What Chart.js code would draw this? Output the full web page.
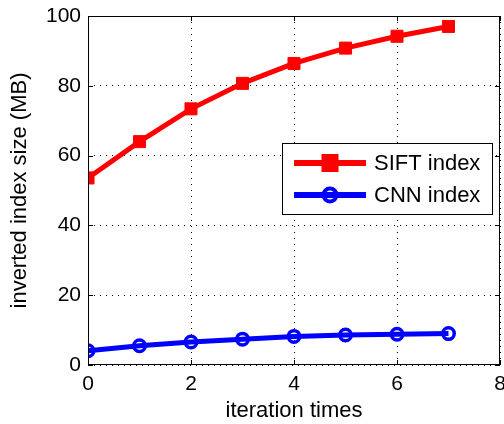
<!DOCTYPE html>
<html>
<head>
<meta charset="utf-8">
<script src="https://cdn.jsdelivr.net/npm/chart.js@4.4.0/dist/chart.umd.min.js"></script>
<style>
  html, body { margin: 0; padding: 0; background: #fff; }
  #wrap { width: 504px; height: 424px; }
</style>
</head>
<body>
<div id="wrap"><canvas id="c" width="504" height="424"></canvas></div>
<script>
// data
const iterations = [0, 1, 2, 3, 4, 5, 6, 7];
const siftIndex = [53.6, 64.0, 73.4, 80.7, 86.4, 90.8, 94.2, 97.0];
const cnnIndex = [4.1, 5.5, 6.6, 7.4, 8.2, 8.6, 8.8, 9.0];
const seriesNames = ["SIFT index", "CNN index"];
const xTicks = [0, 2, 4, 6, 8];
const yTicks = [0, 20, 40, 60, 80, 100];

const FONT = "'Liberation Sans', Arial, sans-serif";
Chart.defaults.font.family = FONT;
Chart.defaults.color = "#000";

// frame, inward ticks and legend, matlab style
const framePlugin = {
  id: "frame",
  afterDraw(chart) {
    const { ctx, chartArea: a } = chart;
    ctx.save();
    ctx.strokeStyle = "#000";
    ctx.lineWidth = 1;
    ctx.strokeRect(a.left + 0.5, a.top + 0.5, a.right - a.left - 1, a.bottom - a.top - 1);

    const xs = chart.scales.x, ys = chart.scales.y;
    ctx.beginPath();
    xTicks.forEach(v => {
      const px = Math.round(xs.getPixelForValue(v)) + 0.5;
      ctx.moveTo(px, a.bottom); ctx.lineTo(px, a.bottom - 5);
      ctx.moveTo(px, a.top); ctx.lineTo(px, a.top + 5);
    });
    yTicks.forEach(v => {
      const py = Math.round(ys.getPixelForValue(v)) + 0.5;
      ctx.moveTo(a.left, py); ctx.lineTo(a.left + 5, py);
      ctx.moveTo(a.right, py); ctx.lineTo(a.right - 5, py);
    });
    ctx.stroke();

    // legend box
    const bx = 282, by = 143, bw = 210, bh = 71;
    ctx.fillStyle = "#fff";
    ctx.fillRect(bx, by, bw, bh);
    ctx.strokeRect(bx + 0.5, by + 0.5, bw, bh);
    chart.data.datasets.forEach((ds, i) => {
      const y = by + 20 + i * 32;
      ctx.strokeStyle = ds.borderColor;
      ctx.lineWidth = 6;
      ctx.beginPath();
      ctx.moveTo(bx + 12, y); ctx.lineTo(bx + 84, y);
      ctx.stroke();
      const mx = bx + 48;
      if (ds.pointStyle === "rect") {
        ctx.fillStyle = ds.borderColor;
        ctx.fillRect(mx - 8.5, y - 9, 17, 18);
      } else {
        ctx.lineWidth = 4;
        ctx.beginPath();
        ctx.arc(mx, y, 6.5, 0, Math.PI * 2);
        ctx.stroke();
      }
      ctx.fillStyle = "#000";
      ctx.font = "22px " + FONT;
      ctx.textBaseline = "middle";
      ctx.textAlign = "left";
      ctx.fillText(ds.label, bx + 92, y + 1);
    });
    ctx.restore();
  }
};

new Chart(document.getElementById("c"), {
  type: "line",
  data: {
    labels: iterations,
    datasets: [
      {
        label: seriesNames[0],
        data: iterations.map((x, i) => ({ x, y: siftIndex[i] })),
        borderColor: "#ff0000",
        backgroundColor: "#ff0000",
        borderWidth: 5,
        pointStyle: "rect",
        pointRadius: 8.5,
        pointBorderWidth: 1,
        pointBackgroundColor: "#ff0000",
        pointBorderColor: "#ff0000"
      },
      {
        label: seriesNames[1],
        data: iterations.map((x, i) => ({ x, y: cnnIndex[i] })),
        borderColor: "#0000ff",
        backgroundColor: "#0000ff",
        borderWidth: 5,
        pointStyle: "circle",
        pointRadius: 5.75,
        pointBorderWidth: 3.5,
        pointBackgroundColor: "rgba(0,0,0,0)",
        pointBorderColor: "#0000ff"
      }
    ]
  },
  options: {
    responsive: false,
    animation: false,
    events: [],
    layout: { autoPadding: false, padding: { top: 16, right: 4, left: 0, bottom: 0 } },
    plugins: {
      legend: { display: false },
      tooltip: { enabled: false }
    },
    scales: {
      x: {
        type: "linear",
        min: 0, max: 8,
        afterBuildTicks: s => { s.ticks = xTicks.map(v => ({ value: v })); },
        afterFit: s => { s.height = 59; s.paddingLeft = 0; s.paddingRight = 0; },
        grid: { color: "#000", lineWidth: 1, drawTicks: false },
        border: { display: false, dash: [1, 5] },
        ticks: { padding: 7, font: { size: 21 }, maxRotation: 0 },
        title: { display: true, text: "iteration times", font: { size: 22 }, padding: { top: 0, bottom: 0 } }
      },
      y: {
        min: 0, max: 100,
        afterBuildTicks: s => { s.ticks = yTicks.map(v => ({ value: v })); },
        afterFit: s => { s.width = 88; s.paddingTop = 0; s.paddingBottom = 0; },
        grid: { color: "#000", lineWidth: 1, drawTicks: false },
        border: { display: false, dash: [1, 5] },
        ticks: { padding: 7, font: { size: 21 } },
        title: { display: true, text: "inverted index size (MB)", font: { size: 22 }, padding: { top: 7, bottom: 0 } }
      }
    }
  },
  plugins: [framePlugin]
});
</script>
</body>
</html>
